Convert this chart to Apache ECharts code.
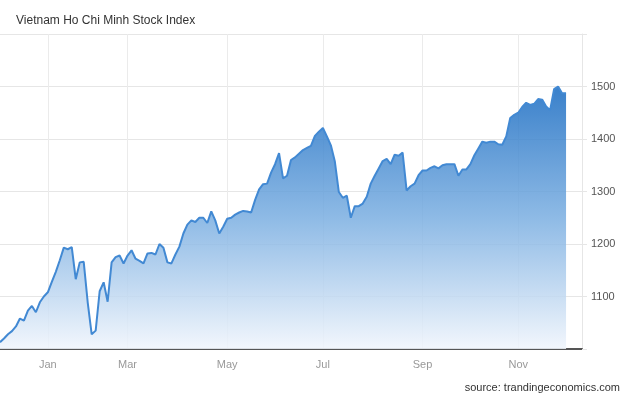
<!DOCTYPE html>
<html><head><meta charset="utf-8">
<script src="https://cdn.jsdelivr.net/npm/echarts@6/dist/echarts.min.js"></script>
<style>html,body{margin:0;padding:0;background:#fff}#c{width:630px;height:396px}</style>
</head><body><div id="c"></div>
<script>
const chartTitle = 'Vietnam Ho Chi Minh Stock Index';
const sourceText = 'source: trandingeconomics.com';
// index level, sampled at even steps from the reference
const values = [
  1013,1020,1028,1034,1043,1058,1054,1073,1082,1070,
  1089,1100,1108,1128,1147,1169,1193,1190,1194,1133,
  1165,1166,1089,1028,1035,1110,1127,1090,1165,1175,
  1178,1163,1178,1188,1172,1168,1163,1182,1183,1180,
  1200,1193,1165,1163,1180,1195,1220,1237,1245,1242,
  1250,1250,1240,1262,1245,1220,1233,1248,1250,1256,
  1260,1263,1262,1260,1284,1304,1314,1315,1336,1352,
  1373,1325,1330,1360,1365,1372,1379,1383,1387,1406,
  1414,1421,1405,1388,1357,1299,1288,1292,1250,1272,
  1272,1277,1290,1315,1330,1344,1358,1362,1352,1370,
  1368,1374,1302,1310,1315,1331,1340,1340,1345,1348,
  1344,1350,1352,1352,1352,1330,1342,1342,1352,1369,
  1382,1395,1393,1395,1395,1390,1389,1405,1440,1446,
  1450,1461,1469,1465,1467,1476,1475,1462,1455,1495,
  1500,1487,1487
];
const totalSlots = 147;
const monthNames = ['Jan','Mar','May','Jul','Sep','Nov'];
const monthIndex = [12,32,57,81,106,130];
const yMin = 1000, yMax = 1600, yStep = 100;

const categories = Array.from({length: totalSlots}, (_, i) => {
  const k = monthIndex.indexOf(i);
  return k >= 0 ? monthNames[k] : '';
});
const isMonth = (i, v) => v !== '';

const chart = echarts.init(document.getElementById('c'), null, {renderer: 'canvas'});
chart.setOption({
  animation: false,
  backgroundColor: '#ffffff',
  textStyle: {fontFamily: 'Liberation Sans, Arial, sans-serif'},
  title: {
    text: chartTitle, left: 11, top: 10,
    textStyle: {fontSize: 12, fontWeight: 'normal', color: '#333', fontFamily: 'Liberation Sans, Arial, sans-serif'}
  },
  graphic: [{
    type: 'text', right: 10, top: 382,
    style: {text: sourceText, fontSize: 11, fill: '#333', font: '11px "Liberation Sans", Arial, sans-serif'}
  }],
  grid: {left: 0, right: 48, top: 34, bottom: 47, containLabel: false},
  xAxis: {
    type: 'category', boundaryGap: false, data: categories,
    axisLine: {show: true, lineStyle: {color: '#555', width: 2}},
    axisTick: {show: false},
    axisLabel: {interval: isMonth, color: '#999', fontSize: 11, margin: 10},
    splitLine: {show: true, interval: isMonth, lineStyle: {color: '#ebebeb', width: 1}}
  },
  yAxis: {
    type: 'value', position: 'right', min: yMin, max: yMax, interval: yStep,
    axisLine: {show: true, lineStyle: {color: '#e6e6e6'}},
    axisTick: {show: true, length: 5, lineStyle: {color: '#e6e6e6'}},
    axisLabel: {color: '#555', fontSize: 11, margin: 9,
      formatter: v => (v === yMin || v === yMax) ? '' : String(v)},
    splitLine: {show: true, lineStyle: {color: '#e6e6e6'}}
  },
  series: [{
    type: 'line', data: values, symbol: 'none', smooth: false,
    lineStyle: {color: '#4289d3', width: 2},
    areaStyle: {
      opacity: 0.85,
      color: new echarts.graphic.LinearGradient(0, 0, 0, 1, [
        {offset: 0, color: 'rgb(23,106,193)'},
        {offset: 0.5, color: 'rgb(122,174,225)'},
        {offset: 1, color: 'rgb(240,245,252)'}
      ])
    }
  }]
});
</script></body></html>
